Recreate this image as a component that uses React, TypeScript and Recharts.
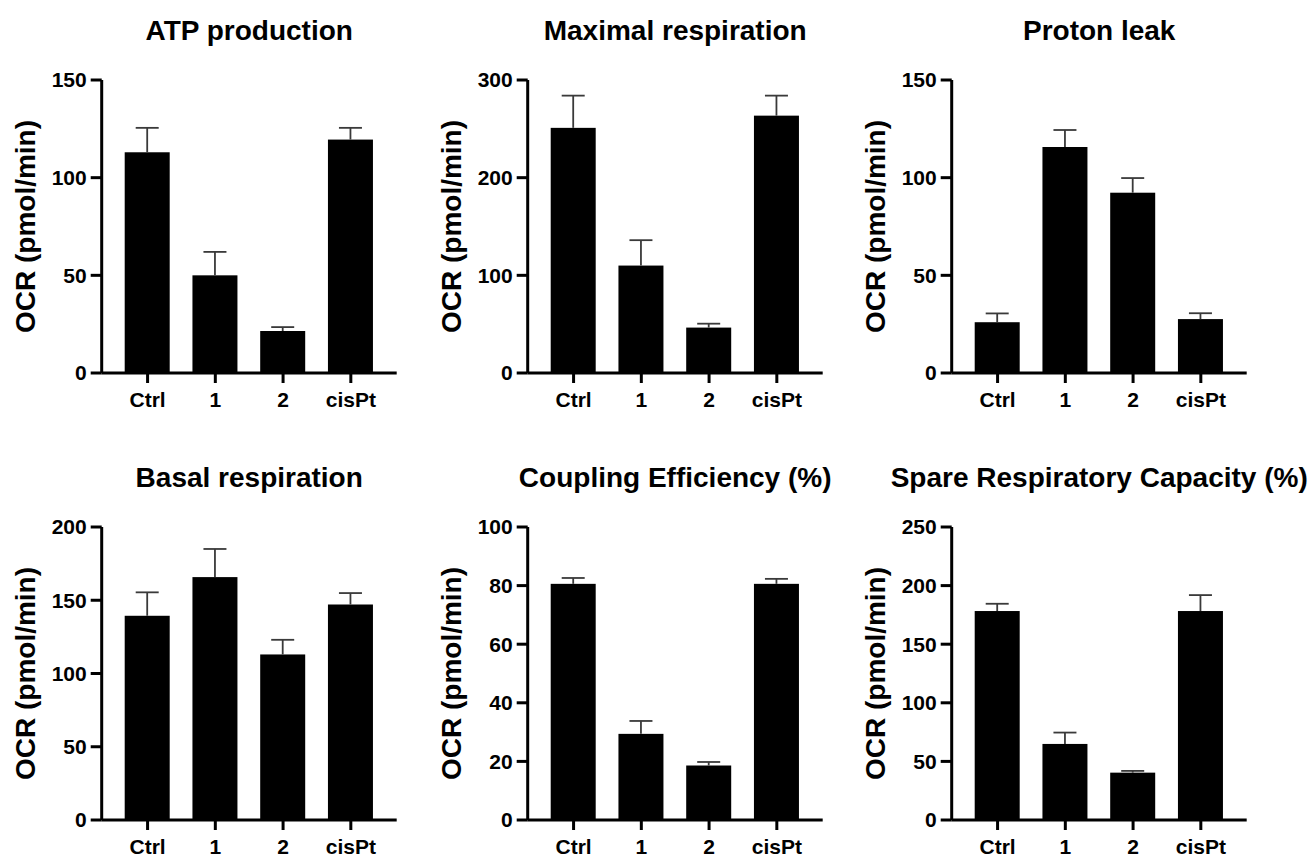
import React from 'react';
import { BarChart, Bar, XAxis, YAxis } from 'recharts';

const groups = ['Ctrl', '1', '2', 'cisPt'];

const atpMeans = [113, 50, 21.5, 119.5];
const atpErr = [12.5, 12, 2, 6];

const maxMeans = [251, 110, 46.5, 263.5];
const maxErr = [33, 26, 4, 20.5];

const leakMeans = [26, 115.7, 92.3, 27.6];
const leakErr = [4.5, 8.7, 7.5, 3];

const basalMeans = [139.4, 165.8, 113, 147.1];
const basalErr = [16, 19.2, 10, 7.8];

const couplingMeans = [80.6, 29.4, 18.6, 80.6];
const couplingErr = [2, 4.4, 1.2, 1.7];

const spareMeans = [178.3, 64.9, 40.4, 178.3];
const spareErr = [6.2, 9.7, 1.5, 13.6];

const font = 'Arial, "Liberation Sans", Helvetica, sans-serif';
const W = 430;
const H = 425;
const AXIS_W = 101.7;
const PLOT_TOP = 80;
const PLOT_BOTTOM = 373;
const PLOT_W = 295;
const XAXIS_H = 45;

// bar plus upward-only SEM whisker, scaled from the bar's own pixel height
function BarWithSem(props: any) {
  const { x, y, width, height, payload } = props;
  const perUnit = payload.value ? height / payload.value : 0;
  const topY = y - payload.err * perUnit;
  const cx = x + width / 2;
  return (
    <g>
      <rect x={x} y={y} width={width} height={height} fill="#000" />
      <line x1={cx} y1={y} x2={cx} y2={topY} stroke="#3a3a3a" strokeWidth={1.8} />
      <line x1={cx - 11.5} y1={topY} x2={cx + 11.5} y2={topY} stroke="#3a3a3a" strokeWidth={1.8} />
    </g>
  );
}

interface PanelProps {
  title: string;
  means: number[];
  errs: number[];
  max: number;
  ticks: number[];
  left: number;
  top: number;
}

function Panel({ title, means, errs, max, ticks, left, top }: PanelProps) {
  const data = groups.map((g, i) => ({ name: g, value: means[i], err: errs[i] }));
  const tickStyle = { fill: '#000', fontSize: 21, fontWeight: 700, fontFamily: font };
  return (
    <div style={{ position: 'absolute', left, top, width: W, height: H }}>
      <BarChart
        width={W}
        height={H}
        data={data}
        barSize={45}
        margin={{ top: PLOT_TOP, right: W - AXIS_W - PLOT_W, bottom: H - PLOT_BOTTOM - XAXIS_H, left: 0 }}
      >
        <XAxis
          dataKey="name"
          height={XAXIS_H}
          padding={{ left: 12, right: 12 }}
          axisLine={{ stroke: '#000', strokeWidth: 3 }}
          tickLine={{ stroke: '#000', strokeWidth: 3 }}
          tickSize={10}
          tickMargin={9}
          tick={tickStyle}
          interval={0}
        />
        <YAxis
          width={AXIS_W}
          domain={[0, max]}
          ticks={ticks}
          interval={0}
          axisLine={{ stroke: '#000', strokeWidth: 3 }}
          tickLine={{ stroke: '#000', strokeWidth: 3 }}
          tickSize={11}
          tickMargin={4}
          tick={tickStyle}
        />
        <Bar dataKey="value" fill="#000" shape={BarWithSem} isAnimationActive={false} />
      </BarChart>
      <svg width={W} height={H} style={{ position: 'absolute', left: 0, top: 0, pointerEvents: 'none', overflow: 'visible' }}>
        <text
          x={AXIS_W + PLOT_W / 2}
          y={40}
          textAnchor="middle"
          fontFamily={font}
          fontWeight={700}
          fontSize={28}
          fill="#000"
        >
          {title}
        </text>
        <text
          transform={`translate(35,${(PLOT_TOP + PLOT_BOTTOM) / 2}) rotate(-90)`}
          textAnchor="middle"
          fontFamily={font}
          fontWeight={700}
          fontSize={28}
          fill="#000"
        >
          OCR (pmol/min)
        </text>
      </svg>
    </div>
  );
}

export default function App() {
  const rowTop2 = 447.3;
  return (
    <div style={{ position: 'absolute', left: 0, top: 0, width: 1309, height: 858, overflow: 'hidden', background: '#fff' }}>
      <Panel title="ATP production" means={atpMeans} errs={atpErr} max={150} ticks={[0, 50, 100, 150]} left={0} top={0} />
      <Panel title="Maximal respiration" means={maxMeans} errs={maxErr} max={300} ticks={[0, 100, 200, 300]} left={425.6} top={0} />
      <Panel title="Proton leak" means={leakMeans} errs={leakErr} max={150} ticks={[0, 50, 100, 150]} left={850} top={0} />
      <Panel title="Basal respiration" means={basalMeans} errs={basalErr} max={200} ticks={[0, 50, 100, 150, 200]} left={0} top={rowTop2} />
      <Panel title="Coupling Efficiency (%)" means={couplingMeans} errs={couplingErr} max={100} ticks={[0, 20, 40, 60, 80, 100]} left={425.6} top={rowTop2} />
      <Panel title="Spare Respiratory Capacity (%)" means={spareMeans} errs={spareErr} max={250} ticks={[0, 50, 100, 150, 200, 250]} left={850} top={rowTop2} />
    </div>
  );
}
